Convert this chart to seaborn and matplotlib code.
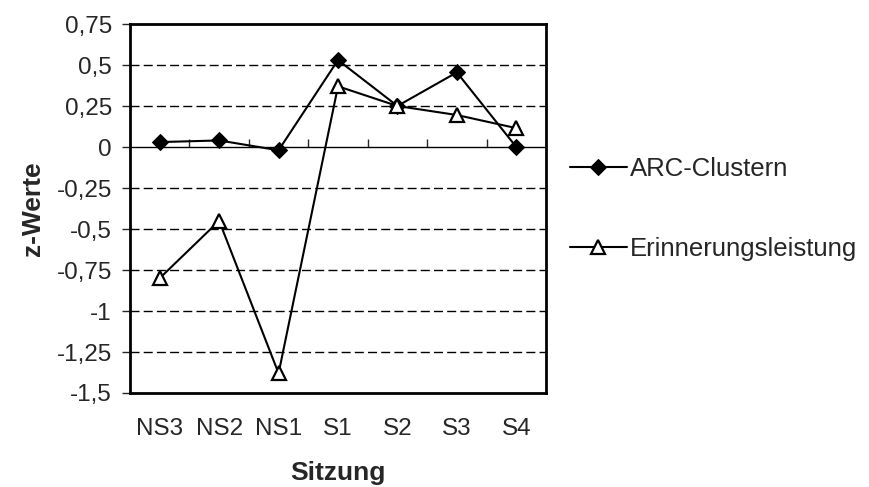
import matplotlib
matplotlib.use("Agg")
import matplotlib.pyplot as plt
import seaborn as sns
import pandas as pd

categories = ["NS3", "NS2", "NS1", "S1", "S2", "S3", "S4"]
arc_clustern = [0.03, 0.04, -0.02, 0.53, 0.25, 0.455, 0.0]
erinnerung = [-0.80, -0.45, -1.38, 0.37, 0.25, 0.195, 0.115]
series_names = ["ARC-Clustern", "Erinnerungsleistung"]
y_ticks = [-1.5, -1.25, -1.0, -0.75, -0.5, -0.25, 0.0, 0.25, 0.5, 0.75]
y_ticklabels = ["-1,5", "-1,25", "-1", "-0,75", "-0,5", "-0,25", "0", "0,25", "0,5", "0,75"]

sns.set_style("white")
plt.rcParams["font.family"] = ["Liberation Sans", "DejaVu Sans"]

df = pd.DataFrame({
    "Sitzung": categories * 2,
    "z": arc_clustern + erinnerung,
    "Serie": [series_names[0]] * len(categories) + [series_names[1]] * len(categories),
})
df["x"] = list(range(len(categories))) * 2

fig = plt.figure(figsize=(8.69, 4.87), dpi=100)
ax = fig.add_axes([130 / 869, 1 - 393 / 487, 416 / 869, 369 / 487])

# grid lines
for yv in y_ticks[1:-1]:
    if yv != 0:
        ax.axhline(yv, color="black", lw=1.0, ls=(0, (6.5, 3)), zorder=0)
ax.axhline(0, color="black", lw=1.0, zorder=1)

sns.lineplot(data=df[df["Serie"] == series_names[0]], x="x", y="z", ax=ax,
             color="black", lw=1.5, marker="D", markersize=8,
             markerfacecolor="black", markeredgecolor="black",
             label=series_names[0], zorder=3)
sns.lineplot(data=df[df["Serie"] == series_names[1]], x="x", y="z", ax=ax,
             color="black", lw=1.5, marker="^", markersize=10.5,
             markerfacecolor="white", markeredgecolor="black", markeredgewidth=1.6,
             label=series_names[1], zorder=4)

ax.set_xlim(-0.5, len(categories) - 0.5)
ax.set_ylim(-1.5, 0.75)
ax.set_xticks(range(len(categories)))
ax.set_xticklabels(categories)
ax.set_yticks(y_ticks)
ax.set_yticklabels(y_ticklabels)
ax.tick_params(axis="x", length=0, pad=18, labelsize=17.5)
ax.tick_params(axis="y", length=6, width=1, direction="out", pad=7, labelsize=17.5, left=True)

for s in ax.spines.values():
    s.set_visible(True)
    s.set_color("black")
    s.set_linewidth(2)

# tick marks at y=0 between categories
sec = ax.secondary_xaxis(1.5 / 2.25)
sec.set_xticks([i + 0.5 for i in range(len(categories) - 1)])
sec.set_xticklabels([])
sec.tick_params(axis="x", direction="out", length=6, width=1)
sec.spines["bottom"].set_visible(False)
sec.spines["top"].set_visible(False)

ax.set_xlabel("Sitzung", fontsize=19, fontweight="bold", labelpad=15)
ax.set_ylabel("z-Werte", fontsize=19, fontweight="bold", labelpad=8)

leg = ax.legend(loc="center left", bbox_to_anchor=(570 / 869, 1 - 209 / 487),
                bbox_transform=fig.transFigure, frameon=False, fontsize=18.5,
                handlelength=2.2, handletextpad=0.12, labelspacing=2.15,
                borderpad=0, borderaxespad=0)

fig.savefig("out.png", dpi=100)
